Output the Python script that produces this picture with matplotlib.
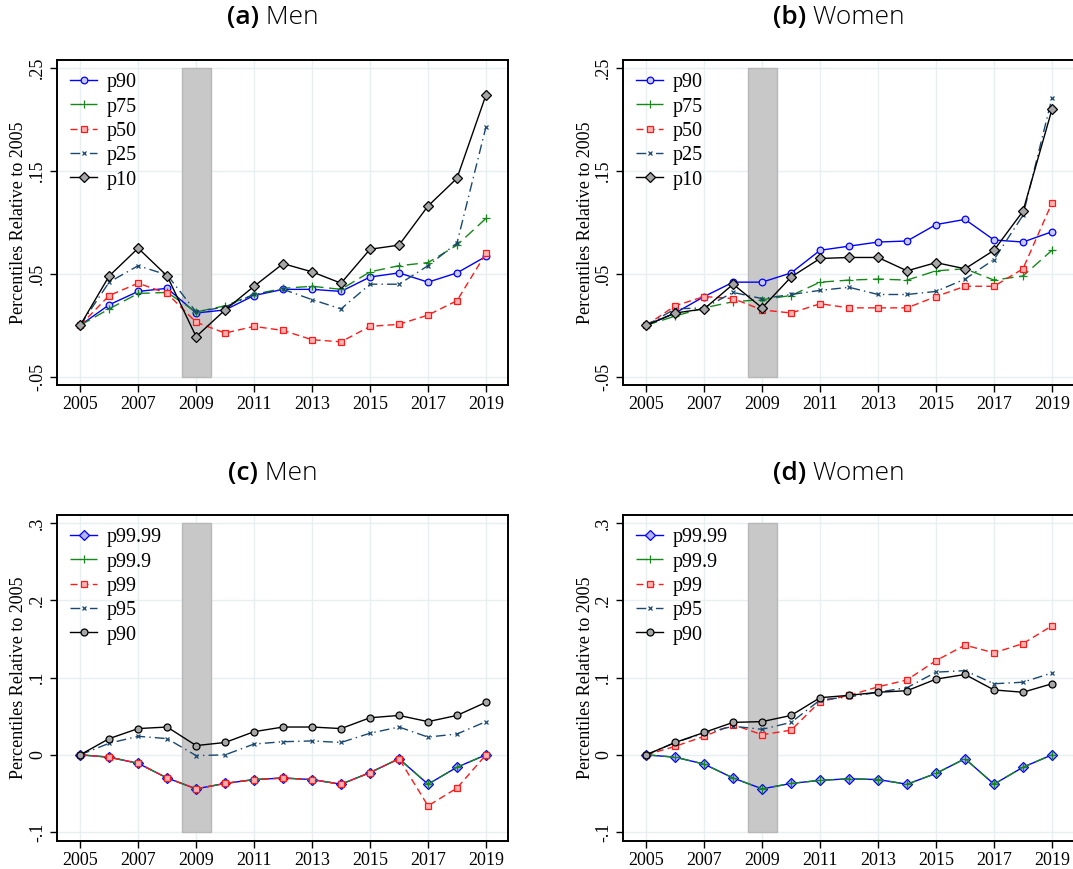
import numpy as np
import matplotlib.pyplot as plt

years = np.arange(2005, 2020)

# (a) Men, core of the distribution
men_p90 = [0, .020, .033, .036, .012, .015, .029, .035, .035, .033, .047, .051, .042, .051, .067]
men_p75 = [0, .016, .031, .032, .013, .019, .030, .036, .038, .035, .052, .058, .061, .078, .104]
men_p50 = [0, .029, .041, .031, .003, -.0075, -.001, -.005, -.014, -.016, -.001, .001, .010, .024, .070]
men_p25 = [0, .042, .058, .049, .013, .018, .030, .035, .025, .016, .040, .040, .058, .080, .193]
men_p10 = [0, .048, .075, .048, -.011, .015, .038, .060, .052, .041, .074, .078, .116, .143, .224]

# (b) Women, core of the distribution
wom_p90 = [0, .012, .028, .042, .042, .051, .073, .077, .081, .082, .098, .103, .083, .081, .091]
wom_p75 = [0, .009, .017, .023, .025, .029, .042, .044, .045, .044, .053, .055, .044, .048, .073]
wom_p50 = [0, .019, .028, .026, .015, .012, .021, .017, .017, .017, .028, .038, .038, .055, .119]
wom_p25 = [0, .016, .017, .032, .026, .030, .034, .037, .030, .030, .033, .045, .064, .107, .221]
wom_p10 = [0, .012, .016, .040, .017, .047, .065, .066, .066, .053, .061, .055, .073, .111, .210]

# (c) Men, top of the distribution
men_p9999 = [0, -.003, -.011, -.030, -.044, -.037, -.032, -.030, -.032, -.038, -.023, -.005, -.038, -.016, 0]
men_p999 = [0, -.003, -.011, -.030, -.044, -.037, -.032, -.030, -.032, -.038, -.023, -.005, -.038, -.016, 0]
men_p99 = [0, -.003, -.011, -.030, -.044, -.037, -.032, -.030, -.032, -.038, -.023, -.005, -.066, -.043, 0]
men_p95 = [0, .015, .024, .021, -.001, 0, .014, .017, .018, .016, .028, .036, .023, .027, .043]
men_top_p90 = [0, .021, .034, .036, .012, .016, .030, .036, .036, .034, .048, .051, .043, .051, .068]

# (d) Women, top of the distribution
wom_p9999 = [0, -.003, -.012, -.030, -.044, -.037, -.033, -.031, -.032, -.038, -.024, -.005, -.038, -.016, 0]
wom_p999 = [0, -.003, -.012, -.030, -.044, -.037, -.033, -.031, -.032, -.038, -.024, -.005, -.038, -.016, 0]
wom_p99 = [0, .011, .024, .039, .026, .032, .069, .077, .088, .097, .122, .142, .132, .144, .167]
wom_p95 = [0, .016, .028, .037, .033, .042, .071, .075, .081, .087, .107, .109, .092, .094, .106]
wom_top_p90 = [0, .016, .029, .042, .043, .051, .074, .077, .081, .083, .098, .104, .084, .081, .092]

core_labels = ['p90', 'p75', 'p50', 'p25', 'p10']
top_labels = ['p99.99', 'p99.9', 'p99', 'p95', 'p90']

blue, green, red, navy = '#0000ff', '#16881a', '#ff1a1a', '#1a476f'

core_styles = [
    dict(color=blue, ls='-', marker='o', ms=4.8, mfc='#c9c9ff', mec=blue),
    dict(color=green, ls=(0, (8, 4)), marker='+', ms=6, mec=green),
    dict(color=red, ls=(0, (5, 3)), marker='s', ms=5, mfc='#ffb3b3', mec=red),
    dict(color=navy, ls=(0, (7, 3, 1, 3)), marker='x', ms=3, mec=navy),
    dict(color='black', ls='-', marker='D', ms=5, mfc='#a6a6a6', mec='black'),
]
top_styles = [
    dict(color=blue, ls='-', marker='D', ms=4.8, mfc='#b3b3ff', mec=blue),
    dict(color=green, ls=(0, (8, 4)), marker='+', ms=6, mec=green),
    dict(color=red, ls=(0, (5, 3)), marker='s', ms=5, mfc='#ffb3b3', mec=red),
    dict(color=navy, ls=(0, (7, 3, 1, 3)), marker='x', ms=3, mec=navy),
    dict(color='black', ls='-', marker='o', ms=5, mfc='#a6a6a6', mec='black'),
]

serif = 'Liberation Serif'

fig = plt.figure(figsize=(10.73, 8.69), dpi=100)
W, H = 1073, 869
boxes = {
    'a': (57, 60, 451, 325),
    'b': (623, 60, 451, 325),
    'c': (57, 515, 451, 326),
    'd': (623, 515, 451, 326),
}


def make_axes(key):
    x0, y0, w, h = boxes[key]
    return fig.add_axes([x0 / W, 1 - (y0 + h) / H, w / W, h / H])


def panel_title(ax, tag, name, y_px):
    # bold tag + light name, centred together over the axes
    renderer = fig.canvas.get_renderer()
    t1 = fig.text(0, 0, tag, fontfamily='Open Sans', fontweight='semibold', fontsize=19)
    t2 = fig.text(0, 0, ' ' + name, fontfamily='Open Sans', fontweight='light', fontsize=19)
    w1 = t1.get_window_extent(renderer).width
    w2 = t2.get_window_extent(renderer).width
    bb = ax.get_position()
    cx = (bb.x0 + bb.x1) / 2 * W
    x_start = cx - (w1 + w2) / 2 - 10
    y = 1 - y_px / H
    t1.set_position((x_start / W, y))
    t2.set_position(((x_start + w1) / W, y))
    t1.set_va('center')
    t2.set_va('center')


def draw_panel(ax, series, labels, styles, yticks, yticklabels, ylim):
    ax.fill_between([2008.5, 2009.5], yticks[0], yticks[-1], color='#c8c8c8',
                    edgecolor='#b8b8b8', lw=1, zorder=1)
    for vals, lab, st in zip(series, labels, styles):
        ax.plot(years, vals, lw=1.0, label=lab, zorder=3, mew=0.9, **st)
    ax.set_xlim(2004.2, 2019.76)
    ax.set_ylim(*ylim)
    ax.set_xticks(np.arange(2005, 2020, 2))
    ax.set_yticks(yticks)
    ax.set_yticklabels(yticklabels, rotation=90, va='center')
    ax.grid(True, color='#e8eff1', lw=1.0, zorder=0)
    ax.set_axisbelow(True)
    ax.tick_params(direction='out', length=5, width=1, labelsize=13, pad=3)
    for lab in ax.get_xticklabels() + ax.get_yticklabels():
        lab.set_fontfamily(serif)
    for sp in ax.spines.values():
        sp.set_linewidth(1.4)
    ax.set_ylabel('Percentiles Relative to 2005', fontfamily=serif, fontsize=13, labelpad=1)
    ax.legend(loc='upper left', frameon=False, handlelength=1.35, handletextpad=0.45,
              labelspacing=0.26, borderaxespad=0.25, borderpad=0.4,
              prop={'family': serif, 'size': 14.5})


core_ticks = [-.05, .05, .15, .25]
core_tick_labels = ['-.05', '.05', '.15', '.25']
top_ticks = [-.1, 0, .1, .2, .3]
top_tick_labels = ['-.1', '0', '.1', '.2', '.3']

ax = make_axes('a')
draw_panel(ax, [men_p90, men_p75, men_p50, men_p25, men_p10], core_labels, core_styles,
           core_ticks, core_tick_labels, (-0.058, 0.258))
panel_title(ax, '(a)', 'Men', 18)
ax = make_axes('b')
draw_panel(ax, [wom_p90, wom_p75, wom_p50, wom_p25, wom_p10], core_labels, core_styles,
           core_ticks, core_tick_labels, (-0.058, 0.258))
panel_title(ax, '(b)', 'Women', 18)
ax = make_axes('c')
draw_panel(ax, [men_p9999, men_p999, men_p99, men_p95, men_top_p90], top_labels, top_styles,
           top_ticks, top_tick_labels, (-0.1115, 0.3104))
panel_title(ax, '(c)', 'Men', 473)
ax = make_axes('d')
draw_panel(ax, [wom_p9999, wom_p999, wom_p99, wom_p95, wom_top_p90], top_labels, top_styles,
           top_ticks, top_tick_labels, (-0.1115, 0.3104))
panel_title(ax, '(d)', 'Women', 473)

fig.savefig('out.png', dpi=100)
